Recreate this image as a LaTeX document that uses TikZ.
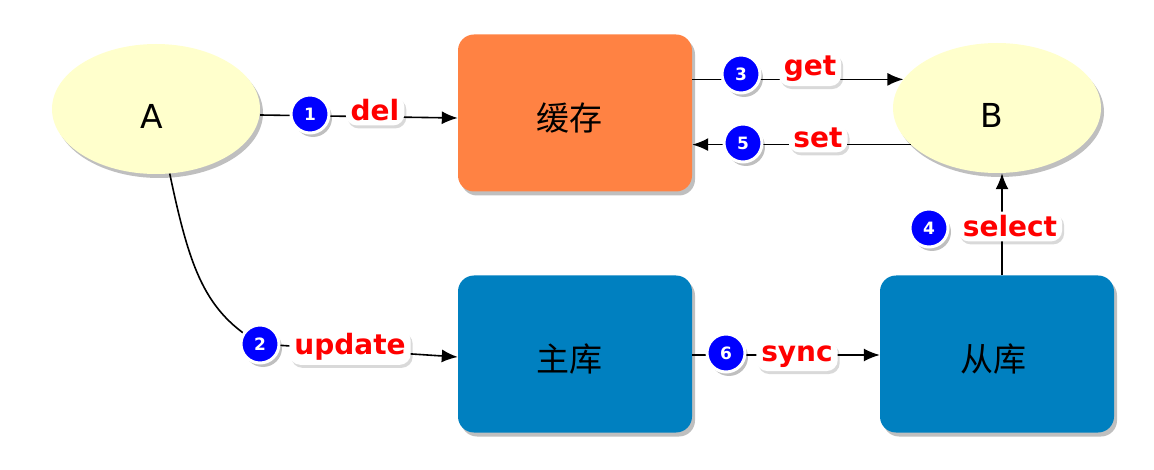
\documentclass[tikz,border=0pt]{standalone}
\usepackage{fontspec}
\setmainfont{DejaVu Sans}
\newfontfamily\cjk{Noto Sans CJK SC}
\usetikzlibrary{shapes.geometric,shadows,arrows.meta}
\definecolor{ellfill}{RGB}{255,255,204}
\definecolor{cacheor}{RGB}{255,130,67}
\definecolor{dbblue}{RGB}{0,128,192}
\definecolor{numblue}{RGB}{0,0,255}
\tikzset{
  shad/.style={drop shadow={shadow xshift=3pt,shadow yshift=-4pt,opacity=0.25,fill=black}},
  lshad/.style={drop shadow={shadow xshift=2pt,shadow yshift=-3pt,opacity=0.15,fill=black}},
  ell/.style={ellipse, fill=ellfill, minimum width=208pt, minimum height=130pt, inner sep=0pt, shad},
  elltext/.style={font=\fontsize{33}{33}\selectfont, inner sep=0pt},
  dbbox/.style={rounded corners=16pt, minimum width=234pt, minimum height=157pt, inner sep=0pt, shad},
  dbtext/.style={font=\cjk\fontsize{33}{33}\selectfont, inner sep=0pt},
  arr/.style={-{Latex[length=16pt,width=13pt]}, line width=1.6pt, black},
  num/.style={circle, fill=numblue, draw=white, line width=3pt, minimum size=38pt, inner sep=0pt,
    text=white, font=\bfseries\fontsize{17}{17}\selectfont, shad},
  lab/.style={anchor=base, text=red, fill=white, rounded corners=11pt, inner xsep=5pt, inner ysep=4pt,
    font=\bfseries\fontsize{28}{28}\selectfont, lshad}
}
\begin{document}
\begin{tikzpicture}[x=1pt,y=-1pt]
\useasboundingbox (0,0) rectangle (1154,470);
% shapes
\node[ell] (A) at (156,109) {};
\node[elltext] (Atx) at (152,116) {A};
\node[ell] (B) at (997,108) {};
\node[elltext] (Btx) at (992,115) {B};
\node[dbbox, fill=cacheor] (cache) at (575,113) {};
\node[dbtext] (cachetx) at (569,118) {缓存};
\node[dbbox, fill=dbblue] (zhu) at (575,354) {};
\node[dbtext] (zhutx) at (569,359) {主库};
\node[dbbox, fill=dbblue] (cong) at (997,354) {};
\node[dbtext] (congtx) at (993,359) {从库};
% connectors
\coordinate (k) at (260,344);
\draw[arr] ([yshift=-6pt]A.east) -- ([yshift=-5pt]cache.west);
\draw[arr] (B.163 -| cache.east) -- (B.163);
\draw[arr] (B.203) -- (B.203 -| cache.east);
\draw[arr] ([xshift=5pt]cong.north) -- ([xshift=5pt]cong.north |- B.south);
\draw[arr] ([yshift=-1pt]zhu.east) -- ([yshift=-1pt]cong.west);
\draw[arr] (A.-78) .. controls (190,270) and (205,312) .. (k) -- ([yshift=-3pt]zhu.west);
% labels
\node[num] (n1) at (310,114) {1};
\node[lab] (t1) at (375,121) {del};
\node[num] (n3) at (741,74) {3};
\node[lab] (t3) at (810,76) {get};
\node[num] (n5) at (743,143) {5};
\node[lab] (t5) at (818,148) {set};
\node[num] (n4) at (929,228) {4};
\node[lab] (t4) at (1010,237) {select};
\node[num] (n2) at (k) {2};
\node[lab] (t2) at (350,355) {update};
\node[num] (n6) at (726,353) {6};
\node[lab] (t6) at (797,361) {sync};
\end{tikzpicture}
\end{document}
